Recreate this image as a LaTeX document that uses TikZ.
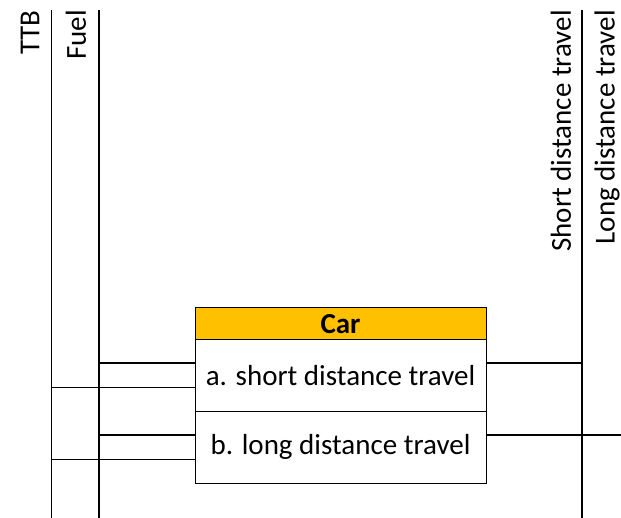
\documentclass[tikz,border=0pt]{standalone}
\usepackage{fontspec}
\setmainfont{Carlito}
\definecolor{hdr}{HTML}{FFC000}
\begin{document}
\begin{tikzpicture}[x=1pt,y=-1pt,
  thickln/.style={line width=1.8pt},
  thinln/.style={line width=0.8pt},
  lbl/.style={rotate=90,anchor=east,inner sep=0pt,font=\fontsize{29}{34}\selectfont},
  cell/.style={draw,line width=1pt,minimum width=291pt,inner sep=0pt,font=\fontsize{29}{34}\selectfont}]
\useasboundingbox (0,0) rectangle (621,518);
% column labels
\node[lbl] (ttb) at (30,10) {TTB};
\node[lbl] (fuel) at (76,10) {Fuel};
\node[lbl] (sdt) at (561,10) {Short distance travel};
\node[lbl] (ldt) at (607,10) {Long distance travel};
% vertical lines
\coordinate (ttbtop) at (51,10);
\coordinate (ttbbot) at (51,518);
\coordinate (fueltop) at (99,10);
\coordinate (fuelbot) at (99,518);
\coordinate (sdttop) at (582,10);
\coordinate (sdtbot) at (582,518);
\coordinate (ldtx) at (621,10);
\draw[thinln] (ttbtop) -- (ttbbot);
\draw[thickln] (fueltop) -- (fuelbot);
\draw[thickln] (sdttop) -- (sdtbot);
% box
\node[cell,fill=hdr,minimum height=32pt,font=\fontsize{29}{34}\selectfont\bfseries] (car) at (340.5,324) {Car};
\node[cell,minimum height=71pt] (rowa) at (340.5,375.5) {a. short distance travel};
\node[cell,minimum height=72pt] (rowb) at (340.5,447) {b. long distance travel};
% horizontal connectors
\coordinate (fa) at (99,363);
\coordinate (ta) at (51,387);
\coordinate (fb) at (99,435);
\coordinate (tb) at (51,459);
\draw[thickln] (fa) -- (fa -| rowa.west);
\draw[thinln] (ta) -- (ta -| rowa.west);
\draw[thickln] (fb) -- (fb -| rowb.west);
\draw[thinln] (tb) -- (tb -| rowb.west);
\draw[thickln] (fa -| rowa.east) -- (fa -| sdttop);
\draw[thickln] (fb -| rowb.east) -- (fb -| ldtx);
\end{tikzpicture}
\end{document}
